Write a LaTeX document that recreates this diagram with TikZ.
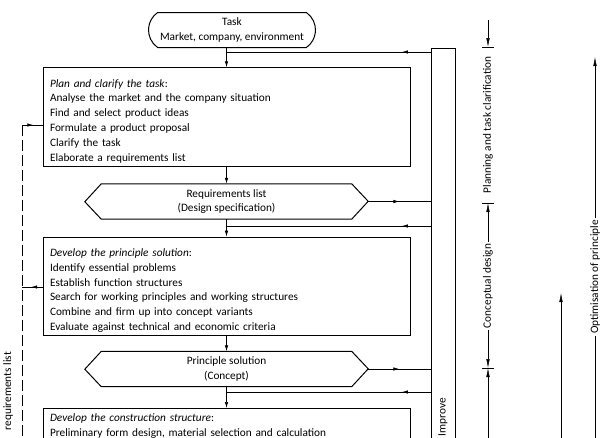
\documentclass[tikz,border=0pt]{standalone}
\usepackage{fontspec}
\setmainfont{Carlito}
\usepackage{graphicx}
\usetikzlibrary{arrows.meta,decorations.markings,shapes.misc}

\begin{document}
\begin{tikzpicture}[x=1pt,y=-1pt,
  font=\fontsize{11.3}{14.8}\selectfont,
  phasebox/.style={draw,line width=1pt,text width=353pt,inner xsep=7pt,align=left},
  lowtext/.style={execute at begin node={\rule{0pt}{16pt}}},
  result/.style={minimum width=250pt,minimum height=35pt,inner sep=0pt,align=center},
  myarrow/.style={-{Latex[length=6pt,width=3.5pt]},line width=0.7pt},
  midarrow/.style={line width=0.7pt,postaction={decorate},
    decoration={markings,mark=at position #1 with {\arrow{Latex[length=6pt,width=3.5pt]}}}},
  midarrow/.default=0.5,
  dimarrow/.style={-{Latex[length=9pt,width=3.5pt]},line width=0.5pt},
  dimtext/.style={rotate=90,inner sep=2pt}]
\useasboundingbox (0,0) rectangle (600,437);

% steps and results
\node[draw,line width=1pt,rounded rectangle,rounded rectangle arc length=110,
  minimum width=167pt,minimum height=35pt,inner xsep=0pt,inner ysep=2pt,align=center]
  (task) at (232,30) {Task\\Market, company, environment};
\node[phasebox,lowtext,minimum height=98pt] (plan) at (226.5,117)
  {\textit{Plan and clarify the task}:\\
   Analyse the market and the company situation\\
   Find and select product ideas\\
   Formulate a product proposal\\
   Clarify the task\\
   Elaborate a requirements list};
\node[result] (reqlist) at (226.5,201.5) {Requirements list\\(Design specification)};
\node[phasebox,lowtext,minimum height=93pt] (principle) at (226.5,286.5)
  {\textit{Develop the principle solution}:\\
   Identify essential problems\\
   Establish function structures\\
   Search for working principles and working structures\\
   Combine and firm up into concept variants\\
   Evaluate against technical and economic criteria};
\node[result] (concept) at (226.5,369) {Principle solution\\(Concept)};
\node[phasebox,anchor=north,inner ysep=5pt] (construct) at (226.5,408)
  {\textit{Develop the construction structure}:\\
   Preliminary form design, material selection and calculation};

% improve column
\node[draw,line width=1pt,minimum width=24pt,minimum height=746pt,inner sep=0pt]
  (improve) at (443,421) {};
\node[rotate=90,inner sep=0pt] (impr) at (443,417) {Improve};

% hexagon outlines
\foreach \n in {reqlist,concept}
  \draw[line width=1pt] (\n.north west) -- (\n.north east) -- ++(16.5,17.5)
    -- (\n.south east) -- (\n.south west) -- ++(-16.5,-17.5) -- cycle;

% flow
\coordinate (j1) at (226.5,52);
\coordinate (j2) at (226.5,226);
\coordinate (j3) at (226.5,392);
\draw[myarrow] (task.south -| plan.north) -- (plan.north);
\draw[midarrow=0.14] (j1 -| improve.west) -- (j1);
\draw[myarrow] (plan.south) -- (reqlist.north);
\draw[midarrow] ([xshift=16.5pt]reqlist.east) -- (reqlist.east -| improve.west);
\draw[myarrow] (reqlist.south) -- (principle.north);
\draw[midarrow=0.14] (j2 -| improve.west) -- (j2);
\draw[myarrow] (principle.south) -- (concept.north);
\draw[midarrow] ([xshift=16.5pt]concept.east) -- (concept.east -| improve.west);
\draw[myarrow] (concept.south) -- (construct.north);
\draw[midarrow=0.14] (j3 -| improve.west) -- (j3);

% feedback on the left
\coordinate (fb1) at (22,125);
\coordinate (fb2) at (22,287);
\coordinate (fbend) at (22,450);
\draw[line width=0.7pt,dash pattern=on 11pt off 4pt] (fb1) -- (fbend);
\draw[midarrow=0.55] (fb1) -- (fb1 -| plan.west);
\draw[midarrow=0.55] (fb2 -| principle.west) -- (fb2);
\node[rotate=90,anchor=east,inner sep=0pt] (info) at (8,352) {requirements list};

% phases
\coordinate (d0) at (488,20);
\coordinate (d1) at (488,47);
\coordinate (d2) at (488,203);
\coordinate (d3) at (488,368);
\coordinate (d4) at (488,450);
\foreach \d in {d1,d2,d3}
  \draw[line width=0.6pt] ([xshift=-6pt]\d) -- ([xshift=6pt]\d);
\draw[dimarrow] (d0) -- (d1);
\node[dimtext] (planning) at (488,125) {Planning and task clarification};
\node[dimtext] (concdesign) at (488,286) {Conceptual design};
\draw[dimarrow] (concdesign.east) -- (d2);
\draw[dimarrow] (concdesign.west) -- (d3);
\draw[dimarrow] (d4) -- (d3);

% optimisation
\coordinate (o0) at (595,57);
\coordinate (o1) at (595,450);
\coordinate (e0) at (561,293);
\coordinate (e1) at (561,450);
\node[dimtext] (optprinc) at (595,277) {Optimisation of principle};
\draw[dimarrow] (optprinc.east) -- (o0);
\draw[line width=0.5pt] (optprinc.west) -- (o1);
\draw[dimarrow] (e1) -- (e0);
\end{tikzpicture}
\end{document}
